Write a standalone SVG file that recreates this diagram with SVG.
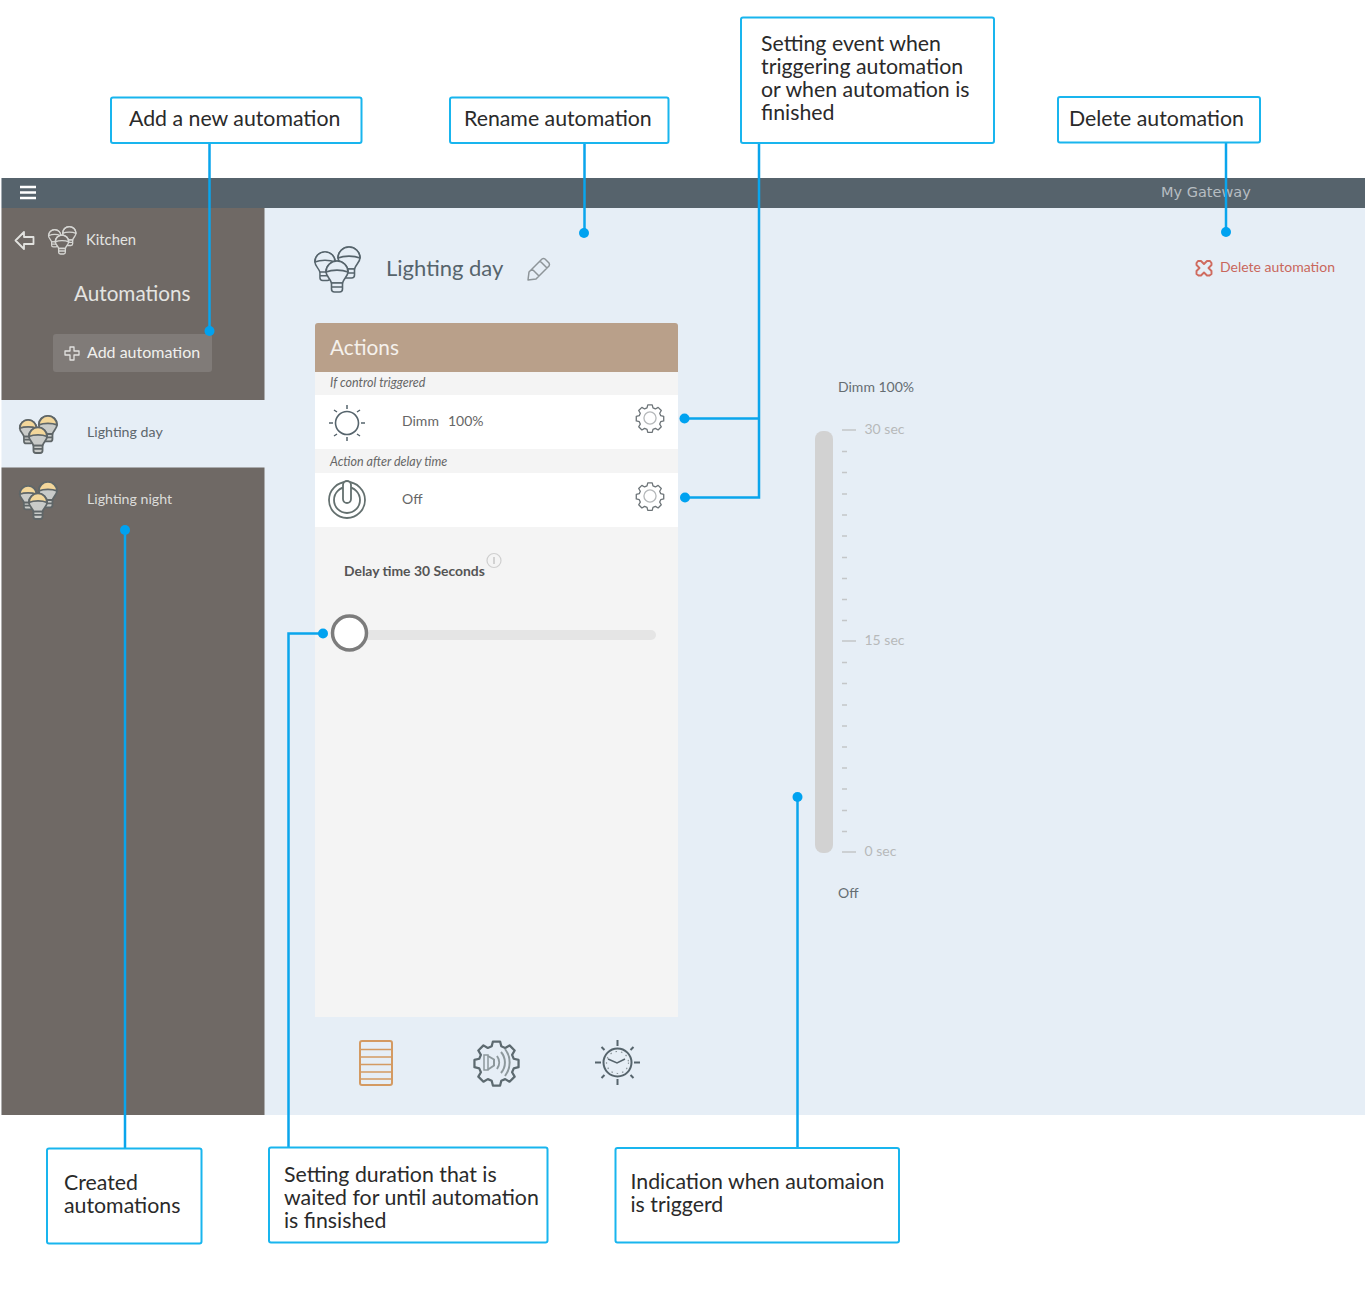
<svg xmlns="http://www.w3.org/2000/svg" width="1365" height="1289" viewBox="0 0 1365 1289">
<style>
text{font-family:Lato,"Open Sans","Liberation Sans",sans-serif}
.box{fill:#fff;stroke:#19b5ee;stroke-width:2}
.ct{font-size:21.300px;fill:#2a2a2a}
.conn{fill:none;stroke:#0aa5ec;stroke-width:2.5}
.dot{fill:#00a2f0}
.ic{stroke:#56646c;stroke-width:1.6}
.gear{fill:none;stroke:#6d7478;stroke-width:1.4}
.sec{font-size:14px;fill:#b7b9ba}
.tick{stroke:#c4c6c8;stroke-width:1.3}
</style>
<defs>
<g id="bulb" stroke-linejoin="round">
<path d="M-11 0a11 11 0 0 1 22 0c0 4-4.500 7-5.500 11h-11c-1-4-5.500-7-5.500-11z" fill="currentColor"/>
<path d="M-11 0a11 11 0 0 1 22 0c-6-2.500-16-2.500-22 0z"/>
<path d="M-5.500 11h11v6a3 3 0 0 1-3 3h-5a3 3 0 0 1-3-3zM-5.500 15h11" fill="currentColor"/>
</g>
<symbol id="bulbs" viewBox="0 0 46 46" overflow="visible">
<use href="#bulb" transform="translate(11 16) scale(.92)"/>
<use href="#bulb" transform="translate(35 12)"/>
<use href="#bulb" transform="translate(23 26)"/>
</symbol>
<path id="cogshape" d="M-2.400-14h4.800l.8 3.200 2.600 1.100 2.900-1.700 3.400 3.400-1.700 2.900 1.100 2.600 3.200.8v4.800l-3.200.8-1.100 2.600 1.700 2.900-3.400 3.400-2.900-1.700-2.600 1.100-.8 3.200h-4.800l-.8-3.200-2.600-1.100-2.900 1.700-3.400-3.400 1.700-2.900-1.100-2.600-3.200-.8v-4.800l3.200-.8 1.100-2.600-1.700-2.900 3.400-3.400 2.900 1.700 2.600-1.100z" stroke-linejoin="round"/>
<symbol id="cog" viewBox="-15 -15 30 30" overflow="visible">
<use href="#cogshape"/>
<circle r="6.500" stroke="#b5b8ba"/>
</symbol>
</defs>

<g id="screen">
<rect x="1.500" y="178" width="1363.500" height="937" fill="#e6eef6"/>
<rect x="1.500" y="178" width="1363.500" height="30" fill="#56636c"/>
<rect x="1.500" y="208" width="263" height="192" fill="#6f6965"/>
<rect x="1.500" y="467.500" width="263" height="647.500" fill="#6f6965"/>
<path d="M20 187h16M20 192.500h16M20 198h16" stroke="#fff" stroke-width="2.600"/>
<text x="1161" y="197" font-size="14.500" fill="#b6bdc2" style="font-family:'DejaVu Sans',sans-serif">My Gateway</text>
</g>

<g id="sidebar-header">
<path d="M24 232l-8.500 8.500 8.500 8.500v-5h9.500v-7h-9.500z" fill="none" stroke="#e2e2df" stroke-width="1.800" stroke-linejoin="round"/>
<use href="#bulbs" x="48" y="226" width="28" height="28" fill="none" color="#6f6965" stroke="#d5d5d2" stroke-width="2.200"/>
<text x="86" y="245" font-size="14.800" fill="#e4e4e1">Kitchen</text>
<text x="74" y="301" font-size="20.700" fill="#e4e4e1">Automations</text>
</g>
<g id="add-automation">
<rect x="53" y="334" width="159" height="38" rx="3" fill="#807b78"/>
<path d="M70 347h4v4h5v4h-5v5h-4v-5h-5v-4h5z" fill="none" stroke="#e2e2e0" stroke-width="1.300" stroke-linejoin="round"/>
<text x="87" y="358" font-size="16" fill="#f0f0ee">Add automation</text>
</g>
<g id="item-day">
<use href="#bulbs" x="19" y="415" width="38" height="38" fill="#f3d79b" color="#c9cbc9" stroke="#5f6668" stroke-width="2.200"/>
<text x="87" y="437" font-size="14.200" fill="#5d666c">Lighting day</text>
</g>
<g id="item-night">
<use href="#bulbs" x="19" y="481" width="38" height="38" fill="#f3d79b" color="#c9cbc9" stroke="#5f6668" stroke-width="2.200"/>
<text x="87" y="504" font-size="14.200" fill="#dcdcda">Lighting night</text>
</g>

<g id="title">
<use href="#bulbs" x="314" y="246" width="46" height="46" class="ic" fill="#e6eef6" color="#e6eef6"/>
<text x="386" y="275.500" font-size="22" fill="#56646c">Lighting day</text>
<path d="M529 272l13-13q1.500-1 3 0l4 4q1 1.500 0 3l-13 13-8 1zM540 261l7 7M532 269l7 7" fill="none" stroke="#8e9599" stroke-width="1.500" stroke-linejoin="round"/>
</g>
<g id="delete-automation">
<path d="M1198 261l3 0 3 3 3-3 3 0 1.500 2v2l-3 3 3 3v3l-2 1.500h-2.500l-3-3-3 3h-2.500l-2-1.500v-3l3-3-3-3v-2z" fill="none" stroke="#cf6b5f" stroke-width="1.900" stroke-linejoin="round"/>
<text x="1220" y="271.500" font-size="14" fill="#c9675c">Delete automation</text>
</g>

<g id="actions-panel">
<rect x="315" y="372" width="363" height="645" fill="#f4f4f4"/>
<path d="M315 372v-46a3 3 0 0 1 3-3h357a3 3 0 0 1 3 3v46z" fill="#b9a08a"/>
<text x="330" y="355" font-size="20.800" fill="#f5f1ec">Actions</text>
<text x="330" y="387" font-size="12.500" font-style="italic" fill="#666">If control triggered</text>
<rect x="315" y="395" width="363" height="54" fill="#fff"/>
<text x="330" y="466" font-size="12.500" font-style="italic" fill="#666">Action after delay time</text>
<rect x="315" y="473" width="363" height="54" fill="#fff"/>
</g>
<g id="action-dimm">
<circle cx="347" cy="423" r="11.500" class="ic" fill="none"/>
<path d="M347 405v4M347 437v4M329 423h4M361 423h4M334 410l3 2M360 410l-3 2M334 436l3-2M360 436l-3-2" stroke="#56646c" stroke-width="1.500" fill="none"/>
<text x="402" y="425.500" font-size="14" fill="#666">Dimm</text>
<text x="448" y="425.500" font-size="14" fill="#666">100%</text>
<use href="#cog" x="636" y="404" width="28" height="28" class="gear"/>
</g>
<g id="action-off">
<circle cx="347" cy="500" r="18" fill="none" stroke="#64706f" stroke-width="1.800"/>
<circle cx="347" cy="500" r="13" fill="none" stroke="#64706f" stroke-width="1.800"/>
<rect x="343" y="481" width="8" height="22" rx="4" fill="#fff" stroke="#64706f" stroke-width="1.800"/>
<text x="402" y="504" font-size="14" fill="#666">Off</text>
<use href="#cog" x="636" y="482" width="28" height="28" class="gear"/>
</g>
<g id="delay">
<text x="344" y="575.500" font-size="13.900" font-weight="700" fill="#555">Delay time 30 Seconds</text>
<circle cx="494" cy="560.500" r="7" fill="none" stroke="#cfcfcf" stroke-width="1.200"/>
<path d="M494 557v7" stroke="#bbb" stroke-width="1.200"/>
<rect x="350" y="630" width="306" height="10" rx="5" fill="#e5e5e5"/>
<circle cx="349.500" cy="633" r="17" fill="#fff" stroke="#7c7c7c" stroke-width="3.500"/>
</g>

<g id="tab-blinds" fill="none" stroke="#d49a62" stroke-width="1.600">
<rect x="360" y="1041" width="32" height="44" rx="2" stroke-width="2"/>
<path d="M360 1049.500h32M360 1057h32M360 1064.500h32M360 1072h32M360 1079h32"/>
</g>
<g id="tab-sound" fill="none">
<use href="#cogshape" transform="translate(496.500 1062.500) scale(1.500)" stroke="#5d6a70" stroke-width="1.500"/>
<rect x="484" y="1055" width="4" height="15" stroke="#8d989c" stroke-width="1.500"/>
<path d="M488 1056l6 3.500v6l-6 4M497 1056a11 11 0 0 1 0 13M501 1052a16 16 0 0 1 0 21M505 1049a22 22 0 0 1 0 27" stroke="#8d989c" stroke-width="2"/>
</g>
<g id="tab-clock" fill="none" stroke="#56646c">
<circle cx="617.500" cy="1062.500" r="14" stroke-width="2"/>
<path d="M617.500 1040v6M617.500 1079v6M595 1062.500h6M634 1062.500h6M601.500 1047l3 3M633.500 1047l-3 3M601.500 1078l3-3M633.500 1078l-3-3" stroke-width="2"/>
<path d="M608 1059l9 4 8-4" stroke-width="1.500"/>
<circle cx="617.500" cy="1062.500" r="11" stroke-width="1.200" stroke-dasharray="1.500 4" stroke="#8a9499"/>
</g>

<g id="progress-scale">
<text x="838" y="391.500" font-size="14" fill="#656d72">Dimm 100%</text>
<rect x="815" y="431" width="18" height="422" rx="8" fill="#d2d2d2"/>
<path class="tick" d="M842 430h14M842 641h14M842 852h14"/>
<path class="tick" d="M842 451.500h5M842 472.500h5M842 494h5M842 515h5M842 536h5M842 557.500h5M842 578.500h5M842 599.500h5M842 620.500h5M842 662.500h5M842 683.500h5M842 705h5M842 726h5M842 747h5M842 768h5M842 789h5M842 810.500h5M842 831.500h5"/>
<text x="864.500" y="434" class="sec">30 sec</text>
<text x="864.500" y="645" class="sec">15 sec</text>
<text x="864.500" y="856" class="sec">0 sec</text>
<text x="838" y="898" font-size="14" fill="#656d72">Off</text>
</g>

<g id="connectors">
<path class="conn" d="M209.500 143V331"/>
<circle class="dot" cx="209.500" cy="331" r="5"/>
<path class="conn" d="M584.500 143V232"/>
<circle class="dot" cx="584" cy="233" r="5"/>
<path class="conn" d="M759 143V497.500H685M759 418.500H685"/>
<circle class="dot" cx="684.500" cy="418.500" r="5"/>
<circle class="dot" cx="685" cy="497.500" r="5"/>
<path class="conn" d="M1226 143V232"/>
<circle class="dot" cx="1226" cy="232" r="5"/>
<path class="conn" d="M125 1148V530"/>
<circle class="dot" cx="125" cy="530" r="5"/>
<path class="conn" d="M288.500 1148V633.500H323"/>
<circle class="dot" cx="323" cy="633.500" r="5"/>
<path class="conn" d="M797.500 1148V797"/>
<circle class="dot" cx="797.500" cy="797" r="5"/>
</g>

<g id="note-add"><rect class="box" x="111" y="97.500" width="250.500" height="45.500" rx="2"/><text class="ct" x="129" y="126">Add a new automation</text></g>
<g id="note-rename"><rect class="box" x="450" y="97.500" width="218.500" height="45.500" rx="2"/><text class="ct" x="464" y="126">Rename automation</text></g>
<g id="note-event"><rect class="box" x="741" y="17.500" width="253" height="125.500" rx="2"/><text class="ct" x="761" y="51">Setting event when</text><text class="ct" x="761" y="74">triggering automation</text><text class="ct" x="761" y="97">or when automation is</text><text class="ct" x="761" y="120">finished</text></g>
<g id="note-delete"><rect class="box" x="1058" y="97" width="202" height="45.500" rx="2"/><text class="ct" x="1069" y="126">Delete automation</text></g>
<g id="note-created"><rect class="box" x="47" y="1148.500" width="154.500" height="95" rx="2"/><text class="ct" x="64" y="1189.500">Created</text><text class="ct" x="64" y="1212.500">automations</text></g>
<g id="note-duration"><rect class="box" x="269" y="1147.500" width="278.500" height="95" rx="2"/><text class="ct" x="284" y="1182">Setting duration that is</text><text class="ct" x="284" y="1205">waited for until automation</text><text class="ct" x="284" y="1228">is finsished</text></g>
<g id="note-indication"><rect class="box" x="615.500" y="1148" width="283.500" height="94.500" rx="2"/><text class="ct" x="630.500" y="1188.500">Indication when automaion</text><text class="ct" x="630.500" y="1211.500">is triggerd</text></g>
</svg>
